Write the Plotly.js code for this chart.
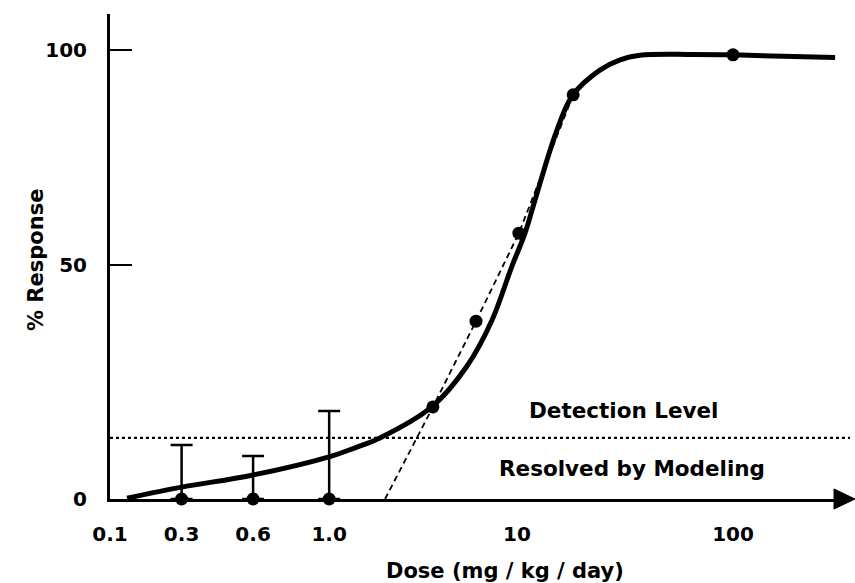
<!DOCTYPE html>
<html>
<head>
<meta charset="utf-8">
<script src="https://cdn.plot.ly/plotly-3.0.1.min.js"></script>
<style>html,body{margin:0;padding:0;background:#fff}#chart{width:855px;height:583px}</style>
</head>
<body>
<div id="chart"></div>
<script>
// Tick positions on the (schematic, irregular) dose axis and their labels
const tickPos = [0.1305, 0.28, 0.6, 1.35, 10, 100];
const tickText = ['0.1', '0.3', '0.6', '1.0', '10', '100'];
const yTickPos = [0, 52.1, 100];
const yTickText = ['0', '50', '100'];

// Low-dose observations (0 % response, with upper error bars)
const lowDose = [0.28, 0.6, 1.35];
const lowResp = [0, 0, 0];
const lowErr = [12.0, 9.6, 19.6];

// Observed responses above detection
const highDose = [4.08, 6.46, 10.2, 18.2, 100];
const highResp = [20.5, 39.6, 59.2, 90.0, 98.9];

// Dashed linear extrapolation through the observed points
const dashDose = [2.45, 4.08, 6.46, 10.2, 18.2];
const dashResp = [0, 20.5, 39.6, 59.2, 90.0];

// Fitted dose-response model curve
const curveDose = [0.1565, 0.284, 0.593, 1.348, 1.778, 2.32, 4.03, 5.85, 7.64, 9.45, 10.89, 12.12, 15.32, 18.16, 24.2, 30.0, 37.1, 63, 100, 297];
const curveResp = [0.2, 2.7, 5.3, 9.4, 11.4, 13.6, 20.5, 29.5, 39.7, 51.7, 59.2, 66.6, 82.2, 90.0, 95.5, 97.8, 98.8, 99.0, 98.9, 98.3];

// Detection level
const detectDose = [0.1305, 348];
const detectResp = [13.6, 13.6];

const FONT = 'DejaVu Sans, Liberation Sans, Arial, sans-serif';

const traces = [
  {x: detectDose, y: detectResp, mode: 'lines', line: {color: '#000', width: 2.2, dash: 'dot'}, hoverinfo: 'skip', cliponaxis: false},
  {x: dashDose, y: dashResp, mode: 'lines', line: {color: '#000', width: 1.8, dash: '6px,4px'}, hoverinfo: 'skip'},
  {x: curveDose, y: curveResp, mode: 'lines', line: {color: '#000', width: 5, shape: 'spline', smoothing: 1}, hoverinfo: 'skip', cliponaxis: false},
  {x: lowDose, y: lowResp, mode: 'markers', marker: {color: '#000', size: 13},
   error_y: {type: 'data', array: lowErr, arrayminus: [0, 0, 0], symmetric: false, color: '#000', thickness: 2.5, width: 11},
   cliponaxis: false},
  {x: highDose, y: highResp, mode: 'markers', marker: {color: '#000', size: 13}, cliponaxis: false}
];

const L = 110, R = 850, T = 14, B = 499;
const W = R - L, H = B - T;
function px(p) { return (p - L) / W; }
function py(p) { return (B - p) / H; }

function label(text, x, y, size, angle) {
  return {xref: 'paper', yref: 'paper', x: px(x), y: py(y), xanchor: 'center', yanchor: 'middle',
          text: text, showarrow: false, textangle: angle || 0,
          font: {family: FONT, size: size, color: '#000', weight: 700}};
}

const layout = {
  width: 855, height: 583,
  margin: {l: L, r: 855 - R, t: T, b: 583 - B},
  paper_bgcolor: '#fff', plot_bgcolor: '#fff',
  showlegend: false,
  font: {family: FONT, color: '#000', weight: 700},
  xaxis: {
    type: 'log', range: [-0.8843, 2.5417],
    tickvals: tickPos, ticktext: tickText,
    ticks: '', showgrid: false, zeroline: false,
    showline: true, linecolor: '#000', linewidth: 2.5,
    tickfont: {family: FONT, size: 20, color: '#000', weight: 700},
    ticklabelstandoff: 15
  },
  yaxis: {
    range: [0, 108.0],
    tickvals: yTickPos, ticktext: yTickText,
    ticks: 'inside', ticklen: 22, tickwidth: 2.5, tickcolor: '#000',
    showgrid: false, zeroline: false,
    showline: true, linecolor: '#000', linewidth: 3,
    tickfont: {family: FONT, size: 20, color: '#000', weight: 700},
    ticklabelstandoff: 16
  },
  shapes: [
    {type: 'path', xref: 'paper', yref: 'paper',
     path: 'M ' + px(834) + ' ' + py(489) + ' L ' + px(855) + ' ' + py(499) + ' L ' + px(834) + ' ' + py(509) + ' Z',
     fillcolor: '#000', line: {color: '#000', width: 1}}
  ],
  annotations: [
    label('Detection Level', 624, 410, 21.5),
    label('Resolved by Modeling', 632, 468, 21.5),
    label('Dose (mg / kg / day)', 505, 571, 21),
    label('% Response', 36, 260, 21, -90)
  ]
};

Plotly.newPlot('chart', traces, layout, {displayModeBar: false, staticPlot: true});
</script>
</body>
</html>
